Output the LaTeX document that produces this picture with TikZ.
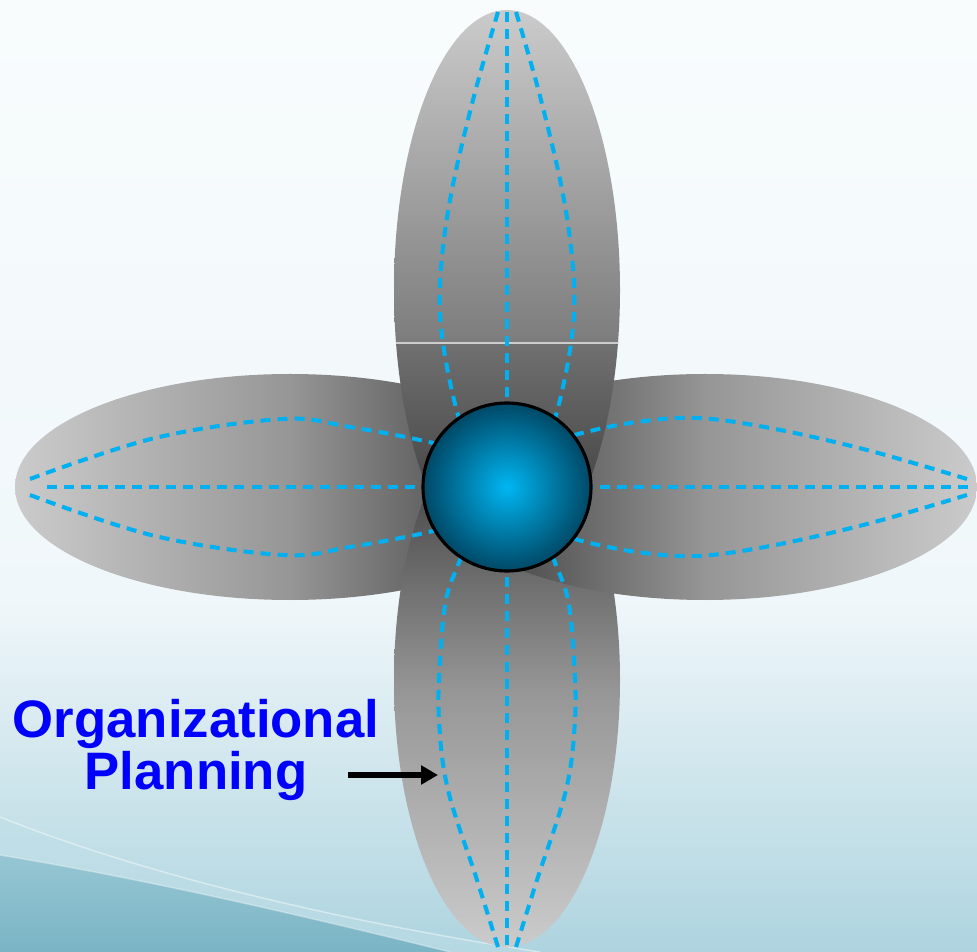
\documentclass[tikz,border=0pt]{standalone}
\usepackage{fontspec}
\newfontfamily\lblfont{Liberation Sans}
\usetikzlibrary{arrows.meta}
\definecolor{dashblue}{RGB}{0,176,240}
\definecolor{bgtop}{RGB}{248,252,253}
\definecolor{bgmid}{RGB}{240,247,250}
\definecolor{bgbot}{RGB}{174,212,223}
\definecolor{swmid}{RGB}{190,222,231}
\definecolor{swdarktop}{RGB}{150,198,211}
\definecolor{swdark}{RGB}{122,180,197}
\definecolor{plight}{RGB}{203,203,203}
\definecolor{pmid}{RGB}{150,150,150}
\definecolor{pdark}{RGB}{48,48,48}
\definecolor{hubin}{RGB}{0,182,242}
\definecolor{hubout}{RGB}{0,72,102}
\definecolor{lblblue}{RGB}{0,0,255}
\tikzset{
  meridian/.style={draw=dashblue, line width=2.3pt, dash pattern=on 5.7pt off 4pt},
  hubstyle/.style={circle, draw=black, line width=1.8pt, minimum size=3.36cm, inner sep=0pt,
                   inner color=hubin, outer color=hubout},
  lblstyle/.style={text=lblblue, align=center, inner sep=0pt,
                   font=\lblfont\bfseries\fontsize{30}{29.5}\selectfont},
  pointer/.style={-{Triangle[length=9.6pt,width=10.4pt]}, line width=2.9pt, draw=black}
}
\begin{document}
\begin{tikzpicture}[x=0.02cm,y=0.02cm]
\useasboundingbox (0,0) rectangle (977,-952);
% background
\shade[top color=bgtop, bottom color=bgmid] (0,0) rectangle (977,-600);
\shade[top color=bgmid, bottom color=bgbot] (0,-599) rectangle (977,-952);
\fill[swmid, opacity=0.45] (0,-817) .. controls (120,-865) and (300,-915) .. (540,-952) -- (0,-952) -- cycle;
\begin{scope}
  \clip (0,-855) .. controls (150,-880) and (300,-915) .. (450,-952) -- (0,-952) -- cycle;
  \shade[top color=swdarktop, bottom color=swdark] (0,-855) rectangle (450,-952);
\end{scope}
\draw[white, opacity=0.45, line width=0.8pt] (0,-817) .. controls (120,-865) and (300,-915) .. (540,-952);
\draw[white, opacity=0.35, line width=0.8pt] (0,-855) .. controls (150,-880) and (300,-915) .. (450,-952);

% left petal
\begin{scope}
  \clip (290,-487) ellipse [x radius=275, y radius=113];
  \shade[left color=plight, right color=pmid] (15,-370) rectangle (291,-604);
  \shade[left color=pmid, right color=pdark] (290,-370) rectangle (566,-604);
\end{scope}
% bottom petal
\begin{scope}
  \clip (507,-680) ellipse [x radius=113, y radius=267];
  \shade[top color=pdark, bottom color=pmid] (390,-413) rectangle (624,-691);
  \shade[top color=pmid, bottom color=plight] (390,-690) rectangle (624,-948);
\end{scope}
% right petal
\begin{scope}
  \clip (705,-487) ellipse [x radius=272, y radius=113];
  \shade[left color=pdark, right color=pmid] (433,-370) rectangle (706,-604);
  \shade[left color=pmid, right color=plight] (705,-370) rectangle (978,-604);
\end{scope}
% top petal
\begin{scope}
  \clip (507,-290) ellipse [x radius=113, y radius=280];
  \shade[top color=plight, bottom color={rgb,255:red,124;green,124;blue,124}] (390,-10) rectangle (624,-344);
  \shade[top color={rgb,255:red,112;green,112;blue,112}, bottom color=pdark] (390,-343) rectangle (624,-570);
  \draw[color={rgb,255:red,205;green,205;blue,205}, line width=0.6pt] (390,-343) -- (624,-343);
\end{scope}

% dashed meridians: top petal
\draw[meridian] (507,-12) -- (507,-487);
\draw[meridian] plot[smooth, tension=0.6] coordinates {(498,-12) (473,-100) (450,-200) (440,-283) (443,-343) (458,-415) (478,-465)};
\draw[meridian] plot[smooth, tension=0.6] coordinates {(516,-12) (541,-100) (564,-200) (574,-283) (571,-343) (556,-415) (536,-465)};
% bottom petal
\draw[meridian] (507,-945) -- (507,-487);
\draw[meridian] plot[smooth, tension=0.6] coordinates {(498,-947) (477,-880) (448,-790) (439,-720) (440,-660) (446,-600) (460,-560) (478,-515)};
\draw[meridian] plot[smooth, tension=0.6] coordinates {(516,-947) (537,-880) (566,-790) (575,-720) (574,-660) (568,-600) (554,-560) (536,-515)};
% left petal
\draw[meridian] (47,-487) -- (507,-487);
\draw[meridian] plot[smooth, tension=0.6] coordinates {(30,-479) (155,-438) (283,-419) (350,-427) (433,-443) (475,-458)};
\draw[meridian] plot[smooth, tension=0.6] coordinates {(30,-495) (155,-536) (283,-555) (350,-547) (433,-531) (475,-516)};
% right petal
\draw[meridian] (968,-487) -- (507,-487);
\draw[meridian] plot[smooth, tension=0.6] coordinates {(967,-479) (867,-450) (770,-428) (697,-418) (637,-422) (582,-433) (540,-446)};
\draw[meridian] plot[smooth, tension=0.6] coordinates {(967,-495) (867,-524) (770,-546) (697,-556) (637,-552) (582,-541) (540,-528)};

% hub
\node[hubstyle] (hub) at (507,-487) {};

% label and arrow
\node[lblstyle] (lbl) at (196,-750) {Organizational\\Planning};
\coordinate (arrS) at (348,-775);
\coordinate (arrE) at (438,-775);
\draw[pointer] (arrS) -- (arrE);
\end{tikzpicture}
\end{document}
